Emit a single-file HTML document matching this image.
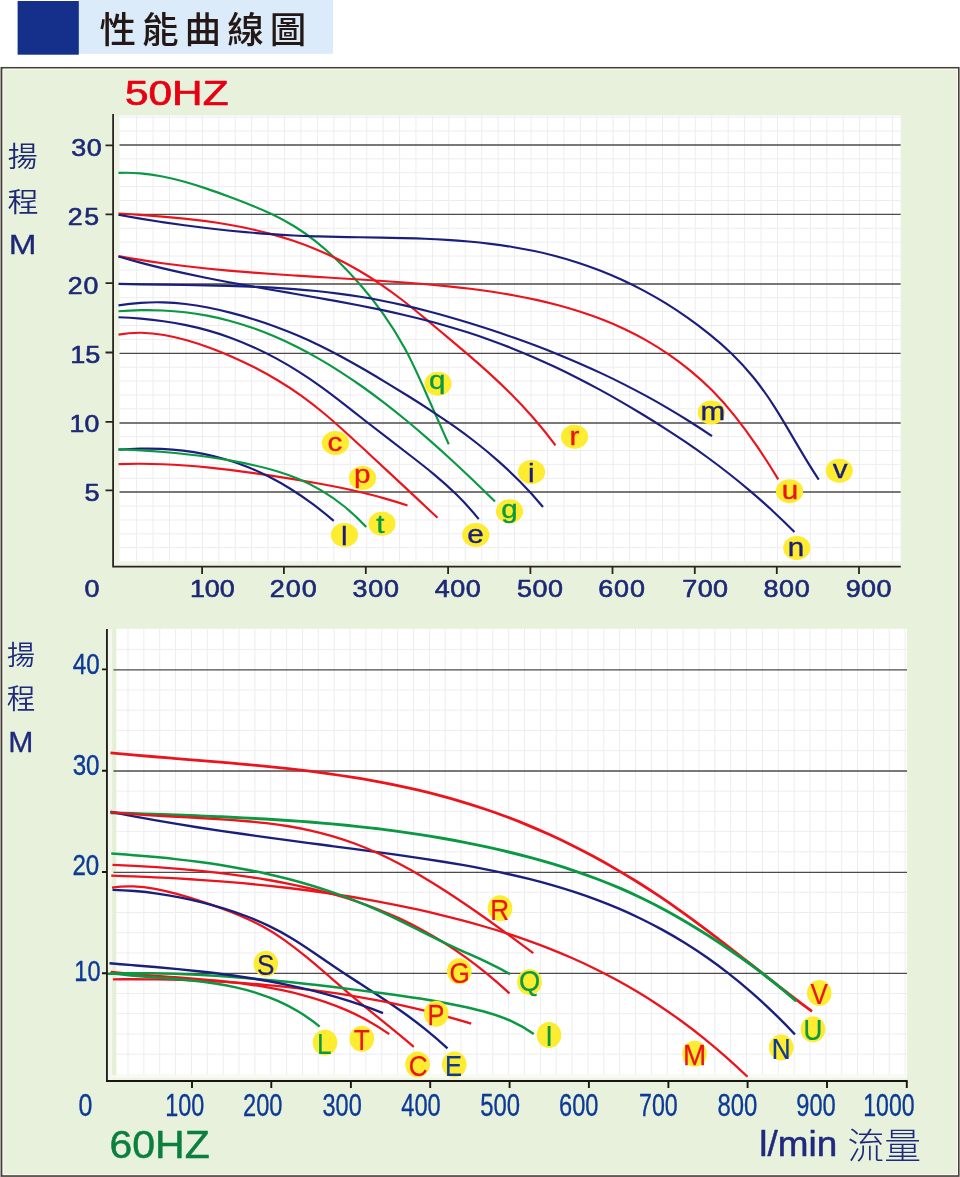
<!DOCTYPE html>
<html lang="zh-Hant"><head><meta charset="utf-8"><title>性能曲線圖</title>
<style>html,body{margin:0;padding:0;background:#fff}body{width:960px;height:1177px;overflow:hidden}svg{display:block}text{font-kerning:none;white-space:pre}</style>
</head><body>
<svg width="960" height="1177" viewBox="0 0 960 1177">
<rect width="960" height="1177" fill="#fff"/>
<rect x="78" y="0" width="255" height="53.8" fill="#dbebf9"/>
<rect x="17.6" y="1" width="61.2" height="53.7" fill="#14308b"/>
<text x="99.4 142 184.6 227.2 269.8" y="42.9" font-family="'Liberation Sans', 'Noto Sans CJK TC', sans-serif" font-weight="500" font-size="36.6" fill="#231815">性能曲線圖</text>
<rect x="1.75" y="67.8" width="957" height="1108.2" fill="#e8f1dc" stroke="#463f39" stroke-width="1.7"/>
<rect x="0" y="67" width="1" height="1110" fill="#a9a3a3"/>
<rect x="3.1" y="69.2" width="954.4" height="1105.4" fill="none" stroke="#f9fcf0" stroke-width="1"/>
<rect x="114" y="115.5" width="5.6" height="450.5" fill="#edf4e3"/>
<rect x="114" y="561.3" width="786.7" height="4.7" fill="#eef5e5"/>
<rect x="119.5" y="115.5" width="781.2" height="445.9" fill="#fff"/>
<path d="M136.63 115.5V561.4M153.06 115.5V561.4M169.5 115.5V561.4M185.93 115.5V561.4M202.36 115.5V561.4M218.79 115.5V561.4M235.22 115.5V561.4M251.66 115.5V561.4M268.09 115.5V561.4M284.52 115.5V561.4M300.95 115.5V561.4M317.38 115.5V561.4M333.82 115.5V561.4M350.25 115.5V561.4M366.68 115.5V561.4M383.11 115.5V561.4M399.54 115.5V561.4M415.98 115.5V561.4M432.41 115.5V561.4M448.84 115.5V561.4M465.27 115.5V561.4M481.7 115.5V561.4M498.14 115.5V561.4M514.57 115.5V561.4M531 115.5V561.4M547.43 115.5V561.4M563.86 115.5V561.4M580.3 115.5V561.4M596.73 115.5V561.4M613.16 115.5V561.4M629.59 115.5V561.4M646.02 115.5V561.4M662.46 115.5V561.4M678.89 115.5V561.4M695.32 115.5V561.4M711.75 115.5V561.4M728.18 115.5V561.4M744.62 115.5V561.4M761.05 115.5V561.4M777.48 115.5V561.4M793.91 115.5V561.4M810.34 115.5V561.4M826.78 115.5V561.4M843.21 115.5V561.4M859.64 115.5V561.4M876.07 115.5V561.4M892.5 115.5V561.4M119.5 547.71H900.7M119.5 533.82H900.7M119.5 519.94H900.7M119.5 506.05H900.7M119.5 478.27H900.7M119.5 464.38H900.7M119.5 450.5H900.7M119.5 436.61H900.7M119.5 408.83H900.7M119.5 394.94H900.7M119.5 381.06H900.7M119.5 367.17H900.7M119.5 339.39H900.7M119.5 325.5H900.7M119.5 311.62H900.7M119.5 297.73H900.7M119.5 269.95H900.7M119.5 256.06H900.7M119.5 242.18H900.7M119.5 228.29H900.7M119.5 200.51H900.7M119.5 186.62H900.7M119.5 172.74H900.7M119.5 158.85H900.7M119.5 131.07H900.7M119.5 117.18H900.7" fill="none" stroke="#ededf0" stroke-width="1"/>
<path d="M119.5 145H900.7" fill="none" stroke="#4f4a4a" stroke-width="1.5"/>
<path d="M119.5 214.45H900.7" fill="none" stroke="#4f4a4a" stroke-width="1.3"/>
<path d="M119.5 284H900.7" fill="none" stroke="#4f4a4a" stroke-width="1.5"/>
<path d="M119.5 353.4H900.7" fill="none" stroke="#4f4a4a" stroke-width="1.2"/>
<path d="M119.5 423H900.7" fill="none" stroke="#4f4a4a" stroke-width="1.5"/>
<path d="M119.5 492.05H900.7" fill="none" stroke="#4f4a4a" stroke-width="1.5"/>
<path d="M118.5 172.91C125.84 172.53 133.18 172.69 140.52 173.31C147.86 173.94 155.19 175.01 162.53 176.45C169.87 177.88 177.21 179.68 184.55 181.73C191.89 183.79 199.23 186.12 206.57 188.61C213.91 191.1 221.24 193.76 228.58 196.49C235.92 199.22 243.26 201.99 250.6 204.92C257.94 207.86 265.28 210.99 272.62 214.51C279.96 218.04 287.29 221.96 294.63 226.48C301.97 231 309.31 236.15 316.65 242.05C323.99 247.95 331.33 254.57 338.67 261.8C346.01 269.02 353.34 276.81 360.68 285.23C368.02 293.66 375.36 302.79 382.7 313.11C390.04 323.43 397.38 334.84 404.72 348.24C412.06 361.64 419.39 377.88 426.73 394.71C434.07 411.53 441.41 427.79 448.75 444.2" fill="none" stroke="#0a9843" stroke-width="2.15" stroke-linecap="butt"/>
<path d="M118.5 213.48C125.78 213.95 133.07 214.42 140.35 214.93C147.63 215.43 154.92 215.97 162.2 216.57C169.48 217.17 176.77 217.83 184.05 218.59C191.33 219.34 198.62 220.19 205.9 221.16C213.18 222.14 220.47 223.23 227.75 224.49C235.03 225.74 242.32 227.15 249.6 228.74C256.88 230.34 264.17 232.12 271.45 234.12C278.73 236.12 286.02 238.33 293.3 240.8C300.58 243.26 307.87 245.98 315.15 248.97C322.43 251.96 329.72 255.24 337 258.82C344.28 262.4 351.57 266.3 358.85 270.53C366.13 274.77 373.42 279.34 380.7 284.29C387.98 289.24 395.27 294.59 402.55 300.25C409.83 305.9 417.12 311.84 424.4 317.88C431.68 323.92 438.97 330.05 446.25 336.14C453.53 342.24 460.82 348.34 468.1 354.59C475.38 360.83 482.67 367.22 489.95 373.88C497.23 380.54 504.52 387.47 511.8 394.83C519.08 402.18 526.37 409.97 533.65 418.32C540.93 426.68 548.22 435.62 555.5 445.29" fill="none" stroke="#ec141c" stroke-width="2.15" stroke-linecap="butt"/>
<path d="M118.5 214.86C125.79 216.17 133.09 217.43 140.38 218.63C147.68 219.84 154.97 220.99 162.27 222.09C169.56 223.19 176.85 224.24 184.15 225.22C191.44 226.21 198.74 227.14 206.03 228.02C213.33 228.89 220.62 229.7 227.91 230.45C235.21 231.2 242.5 231.89 249.8 232.51C257.09 233.14 264.39 233.7 271.68 234.19C278.97 234.69 286.27 235.11 293.56 235.47C300.86 235.83 308.15 236.11 315.45 236.34C322.74 236.57 330.03 236.75 337.33 236.89C344.62 237.04 351.92 237.16 359.21 237.27C366.51 237.38 373.8 237.49 381.09 237.61C388.39 237.74 395.68 237.88 402.98 238.06C410.27 238.25 417.57 238.47 424.86 238.77C432.15 239.06 439.45 239.42 446.74 239.86C454.04 240.31 461.33 240.85 468.62 241.5C475.92 242.14 483.21 242.91 490.51 243.81C497.8 244.71 505.1 245.74 512.39 246.94C519.68 248.14 526.98 249.5 534.27 251.04C541.57 252.58 548.86 254.31 556.16 256.24C563.45 258.17 570.74 260.31 578.04 262.67C585.33 265.03 592.63 267.62 599.92 270.45C607.22 273.29 614.51 276.37 621.8 279.72C629.1 283.07 636.39 286.68 643.69 290.59C650.98 294.5 658.28 298.69 665.57 303.19C672.86 307.7 680.16 312.51 687.45 317.66C694.75 322.8 702.04 328.27 709.34 334.11C716.63 339.95 723.92 346.21 731.22 353.24C738.51 360.28 745.81 368.09 753.1 377.04C760.4 385.98 767.69 396.12 774.98 407.61C782.28 419.09 789.57 431.69 796.87 444.12C804.16 456.54 811.46 468.8 818.75 479.6" fill="none" stroke="#1a1f7c" stroke-width="2.15" stroke-linecap="butt"/>
<path d="M118.5 256.12C125.83 257.47 133.16 258.73 140.49 259.91C147.82 261.09 155.15 262.18 162.48 263.2C169.81 264.21 177.14 265.15 184.47 266.03C191.81 266.91 199.14 267.72 206.47 268.47C213.8 269.23 221.13 269.93 228.46 270.58C235.79 271.24 243.12 271.85 250.45 272.42C257.78 273 265.11 273.53 272.44 274.04C279.77 274.55 287.1 275.04 294.43 275.51C301.76 275.98 309.09 276.43 316.43 276.88C323.76 277.32 331.09 277.76 338.42 278.2C345.75 278.64 353.08 279.09 360.41 279.55C367.74 280.01 375.07 280.48 382.4 280.97C389.73 281.47 397.06 281.98 404.39 282.53C411.72 283.08 419.05 283.66 426.38 284.29C433.71 284.91 441.04 285.59 448.38 286.33C455.71 287.08 463.04 287.89 470.37 288.79C477.7 289.7 485.03 290.69 492.36 291.79C499.69 292.9 507.02 294.11 514.35 295.46C521.68 296.81 529.01 298.29 536.34 299.92C543.67 301.55 551 303.34 558.33 305.3C565.66 307.26 572.99 309.39 580.33 311.74C587.66 314.09 594.99 316.65 602.32 319.5C609.65 322.34 616.98 325.46 624.31 328.92C631.64 332.38 638.97 336.17 646.3 340.35C653.63 344.53 660.96 349.1 668.29 354.12C675.62 359.14 682.95 364.58 690.28 370.59C697.61 376.6 704.94 383.19 712.27 390.6C719.61 398.01 726.94 406.28 734.27 415.4C741.6 424.53 748.93 434.47 756.26 445.15C763.59 455.83 770.92 467.25 778.25 479.34" fill="none" stroke="#ec141c" stroke-width="2.15" stroke-linecap="butt"/>
<path d="M118.5 256.48C125.77 258.64 133.04 260.69 140.31 262.63C147.58 264.58 154.84 266.41 162.11 268.16C169.38 269.91 176.65 271.57 183.92 273.16C191.19 274.75 198.46 276.27 205.73 277.73C212.99 279.18 220.26 280.58 227.53 281.94C234.8 283.3 242.07 284.62 249.34 285.91C256.61 287.2 263.88 288.47 271.15 289.72C278.41 290.97 285.68 292.22 292.95 293.46C300.22 294.71 307.49 295.97 314.76 297.24C322.03 298.51 329.3 299.81 336.56 301.14C343.83 302.46 351.1 303.83 358.37 305.25C365.64 306.66 372.91 308.13 380.18 309.67C387.45 311.2 394.72 312.8 401.98 314.49C409.25 316.17 416.52 317.94 423.79 319.81C431.06 321.67 438.33 323.64 445.6 325.71C452.87 327.79 460.13 329.98 467.4 332.3C474.67 334.62 481.94 337.07 489.21 339.67C496.48 342.26 503.75 345 511.02 347.88C518.28 350.76 525.55 353.78 532.82 356.94C540.09 360.1 547.36 363.39 554.63 366.82C561.9 370.24 569.17 373.8 576.44 377.49C583.7 381.17 590.97 384.99 598.24 388.92C605.51 392.86 612.78 396.92 620.05 401.09C627.32 405.27 634.59 409.57 641.85 413.97C649.12 418.38 656.39 422.9 663.66 427.55C670.93 432.2 678.2 436.97 685.47 441.91C692.74 446.85 700.01 451.96 707.27 457.25C714.54 462.55 721.81 468.04 729.08 473.75C736.35 479.46 743.62 485.4 750.89 491.59C758.16 497.78 765.42 504.22 772.69 510.95C779.96 517.68 787.23 524.7 794.5 532.03" fill="none" stroke="#1a1f7c" stroke-width="2.15" stroke-linecap="butt"/>
<path d="M118.5 283.93C125.83 284.1 133.15 284.24 140.48 284.36C147.81 284.48 155.14 284.58 162.46 284.68C169.79 284.78 177.12 284.87 184.44 284.98C191.77 285.08 199.1 285.2 206.43 285.33C213.75 285.47 221.08 285.63 228.41 285.84C235.73 286.04 243.06 286.28 250.39 286.57C257.72 286.86 265.04 287.21 272.37 287.63C279.7 288.04 287.02 288.52 294.35 289.09C301.68 289.66 309.01 290.3 316.33 291.05C323.66 291.79 330.99 292.63 338.31 293.58C345.64 294.54 352.97 295.6 360.3 296.79C367.62 297.98 374.95 299.3 382.28 300.74C389.6 302.18 396.93 303.74 404.26 305.42C411.59 307.09 418.91 308.88 426.24 310.76C433.57 312.65 440.9 314.65 448.22 316.73C455.55 318.82 462.88 321 470.2 323.26C477.53 325.52 484.86 327.87 492.19 330.29C499.51 332.71 506.84 335.21 514.17 337.8C521.49 340.38 528.82 343.06 536.15 345.83C543.48 348.6 550.8 351.46 558.13 354.44C565.46 357.41 572.78 360.49 580.11 363.69C587.44 366.89 594.77 370.2 602.09 373.65C609.42 377.09 616.75 380.66 624.07 384.37C631.4 388.08 638.73 391.92 646.06 395.91C653.38 399.91 660.71 404.05 668.04 408.35C675.36 412.64 682.69 417.1 690.02 421.72C697.35 426.35 704.67 431.14 712 436.11" fill="none" stroke="#1a1f7c" stroke-width="2.15" stroke-linecap="butt"/>
<path d="M118.5 305.35C125.95 304.17 133.39 303.33 140.84 302.83C148.29 302.32 155.74 302.16 163.18 302.35C170.63 302.53 178.08 303.07 185.53 303.95C192.97 304.83 200.42 306.04 207.87 307.52C215.32 308.99 222.76 310.72 230.21 312.63C237.66 314.54 245.11 316.65 252.55 318.96C260 321.27 267.45 323.78 274.89 326.51C282.34 329.24 289.79 332.18 297.24 335.33C304.68 338.49 312.13 341.87 319.58 345.48C327.03 349.09 334.47 352.93 341.92 356.96C349.37 360.99 356.82 365.2 364.26 369.54C371.71 373.87 379.16 378.32 386.61 382.83C394.05 387.33 401.5 391.88 408.95 396.52C416.39 401.17 423.84 405.9 431.29 410.79C438.74 415.68 446.18 420.73 453.63 425.98C461.08 431.24 468.53 436.71 475.97 442.52C483.42 448.34 490.87 454.48 498.32 461.08C505.76 467.68 513.21 474.73 520.66 482.35C528.11 489.97 535.55 498.16 543 507.03" fill="none" stroke="#1a1f7c" stroke-width="2.15" stroke-linecap="butt"/>
<path d="M118.5 311.29C125.88 310.69 133.26 310.32 140.65 310.18C148.03 310.05 155.41 310.14 162.79 310.49C170.18 310.83 177.56 311.43 184.94 312.29C192.32 313.15 199.71 314.28 207.09 315.68C214.47 317.08 221.85 318.77 229.24 320.75C236.62 322.73 244 325 251.38 327.55C258.76 330.11 266.15 332.95 273.53 336.07C280.91 339.19 288.29 342.59 295.68 346.26C303.06 349.93 310.44 353.88 317.82 358.1C325.21 362.31 332.59 366.8 339.97 371.54C347.35 376.28 354.74 381.27 362.12 386.5C369.5 391.73 376.88 397.19 384.26 402.86C391.65 408.54 399.03 414.43 406.41 420.51C413.79 426.59 421.18 432.87 428.56 439.33C435.94 445.78 443.32 452.41 450.71 459.19C458.09 465.98 465.47 472.92 472.85 479.99C480.24 487.07 487.62 494.28 495 501.61" fill="none" stroke="#0a9843" stroke-width="2.15" stroke-linecap="butt"/>
<path d="M118.5 317.24C126.01 317.55 133.51 318.01 141.02 318.66C148.52 319.32 156.03 320.15 163.53 321.22C171.04 322.28 178.54 323.57 186.05 325.13C193.55 326.68 201.06 328.5 208.56 330.62C216.07 332.73 223.57 335.16 231.08 337.91C238.58 340.67 246.09 343.75 253.59 347.17C261.1 350.58 268.6 354.32 276.11 358.4C283.61 362.47 291.12 366.87 298.62 371.6C306.13 376.33 313.64 381.39 321.14 386.78C328.65 392.17 336.15 397.91 343.66 403.79C351.16 409.66 358.67 415.65 366.17 421.51C373.68 427.38 381.18 433.16 388.69 438.93C396.19 444.69 403.7 450.44 411.2 456.24C418.71 462.04 426.21 467.87 433.72 474.1C441.22 480.33 448.73 486.95 456.23 494.34C463.74 501.72 471.24 509.86 478.75 519.12" fill="none" stroke="#1a1f7c" stroke-width="2.15" stroke-linecap="butt"/>
<path d="M118.5 334.66C126.1 333.22 133.69 332.64 141.29 332.74C148.88 332.85 156.48 333.64 164.07 334.96C171.67 336.27 179.26 338.11 186.86 340.3C194.45 342.49 202.05 345.02 209.64 347.79C217.24 350.56 224.83 353.6 232.43 356.93C240.02 360.26 247.62 363.87 255.21 367.79C262.81 371.7 270.4 375.93 278 380.48C285.6 385.02 293.19 389.92 300.79 395.31C308.38 400.7 315.98 406.64 323.57 412.98C331.17 419.33 338.76 426.06 346.36 432.95C353.95 439.85 361.55 446.9 369.14 453.94C376.74 460.98 384.33 468.03 391.93 475.1C399.52 482.17 407.12 489.27 414.71 496.39C422.31 503.51 429.9 510.65 437.5 517.83" fill="none" stroke="#ec141c" stroke-width="2.15" stroke-linecap="butt"/>
<path d="M118.5 464.1C125.91 463.82 133.32 463.71 140.73 463.74C148.14 463.77 155.55 463.94 162.96 464.23C170.37 464.53 177.78 464.96 185.19 465.49C192.6 466.02 200.01 466.67 207.42 467.41C214.83 468.14 222.24 468.97 229.65 469.88C237.06 470.79 244.47 471.77 251.88 472.81C259.29 473.85 266.71 474.96 274.12 476.1C281.53 477.25 288.94 478.43 296.35 479.65C303.76 480.87 311.17 482.14 318.58 483.49C325.99 484.83 333.4 486.26 340.81 487.79C348.22 489.33 355.63 490.98 363.04 492.77C370.45 494.56 377.86 496.49 385.27 498.6C392.68 500.71 400.09 503 407.5 505.49" fill="none" stroke="#ec141c" stroke-width="2.15" stroke-linecap="butt"/>
<path d="M118.5 449.79C125.67 449.21 132.85 448.82 140.03 448.66C147.2 448.5 154.38 448.56 161.55 448.87C168.72 449.19 175.9 449.76 183.07 450.62C190.25 451.47 197.42 452.62 204.6 454.09C211.78 455.55 218.95 457.34 226.12 459.47C233.3 461.61 240.47 464.1 247.65 466.98C254.82 469.85 262 473.11 269.17 476.78C276.35 480.44 283.52 484.5 290.7 488.98C297.88 493.45 305.05 498.34 312.23 503.66C319.4 508.98 326.57 514.73 333.75 520.91" fill="none" stroke="#1a1f7c" stroke-width="2.15" stroke-linecap="butt"/>
<path d="M118.5 449.06C126.01 449.44 133.52 449.86 141.02 450.35C148.53 450.83 156.04 451.38 163.55 452.02C171.05 452.66 178.56 453.38 186.07 454.21C193.58 455.04 201.08 455.97 208.59 457.04C216.1 458.11 223.61 459.31 231.11 460.65C238.62 462 246.13 463.5 253.64 465.18C261.14 466.85 268.65 468.73 276.16 470.98C283.67 473.23 291.17 475.85 298.68 479.01C306.19 482.18 313.7 485.9 321.2 490.33C328.71 494.77 336.22 499.92 343.73 505.97C351.23 512.03 358.74 518.97 366.25 526.99" fill="none" stroke="#0a9843" stroke-width="2.15" stroke-linecap="butt"/>
<path d="M113.1 114V567.5M112.2 566.65H900.8" fill="none" stroke="#2a2320" stroke-width="1.8"/>
<path d="M105.5 145.3H113M105.5 214.3H113M105.5 283.2H113M105.5 352.5H113M105.5 421.9H113M105.5 490.3H113M202.1 566.6V574M283.9 566.6V574M365.8 566.6V574M448.1 566.6V574M530.4 566.6V574M612.5 566.6V574M694.8 566.6V574M776.8 566.6V574M859 566.6V574" fill="none" stroke="#2a2320" stroke-width="1.8"/>
<ellipse cx="438" cy="383.75" rx="13.6" ry="11.9" fill="#fdec30"/>
<ellipse cx="335.4" cy="443" rx="13.6" ry="11.9" fill="#fdec30"/>
<ellipse cx="362.5" cy="478" rx="13.6" ry="11.9" fill="#fdec30"/>
<ellipse cx="382" cy="523.75" rx="13.6" ry="11.9" fill="#fdec30"/>
<ellipse cx="344.5" cy="535" rx="13.6" ry="11.9" fill="#fdec30"/>
<ellipse cx="475.75" cy="535" rx="13.6" ry="11.9" fill="#fdec30"/>
<ellipse cx="509.5" cy="511.25" rx="13.6" ry="11.9" fill="#fdec30"/>
<ellipse cx="531.5" cy="472" rx="13.6" ry="11.9" fill="#fdec30"/>
<ellipse cx="574.5" cy="436.75" rx="13.6" ry="11.9" fill="#fdec30"/>
<ellipse cx="711.25" cy="412.5" rx="13.6" ry="11.9" fill="#fdec30"/>
<ellipse cx="789.5" cy="491.25" rx="13.6" ry="11.9" fill="#fdec30"/>
<ellipse cx="839.25" cy="470.75" rx="13.6" ry="11.9" fill="#fdec30"/>
<ellipse cx="796.75" cy="548" rx="13.6" ry="11.9" fill="#fdec30"/>
<text transform="translate(429.11 388.92) scale(1.17 1)" font-family="'Liberation Sans', sans-serif" font-size="25.3" fill="#0a9843" stroke="#0a9843" stroke-width="0.35" stroke-linejoin="round">q</text>
<text transform="translate(327.4 450.7) scale(1.17 1)" font-family="'Liberation Sans', sans-serif" font-size="25.3" fill="#ec141c" stroke="#ec141c" stroke-width="0.35" stroke-linejoin="round">c</text>
<text transform="translate(354.12 483.11) scale(1.17 1)" font-family="'Liberation Sans', sans-serif" font-size="25.3" fill="#ec141c" stroke="#ec141c" stroke-width="0.35" stroke-linejoin="round">p</text>
<text transform="translate(376.28 532.78) scale(1.17 1)" font-family="'Liberation Sans', sans-serif" font-size="25.3" fill="#0a9843" stroke="#0a9843" stroke-width="0.35" stroke-linejoin="round">t</text>
<text transform="translate(340.94 545.17) scale(1.17 1)" font-family="'Liberation Sans', sans-serif" font-size="25.3" fill="#1a1f7c" stroke="#1a1f7c" stroke-width="0.35" stroke-linejoin="round">l</text>
<text transform="translate(467.24 542.7) scale(1.17 1)" font-family="'Liberation Sans', sans-serif" font-size="25.3" fill="#1a1f7c" stroke="#1a1f7c" stroke-width="0.35" stroke-linejoin="round">e</text>
<text transform="translate(501.36 517.86) scale(1.17 1)" font-family="'Liberation Sans', sans-serif" font-size="25.3" fill="#0a9843" stroke="#0a9843" stroke-width="0.35" stroke-linejoin="round">g</text>
<text transform="translate(527.94 482.17) scale(1.17 1)" font-family="'Liberation Sans', sans-serif" font-size="25.3" fill="#1a1f7c" stroke="#1a1f7c" stroke-width="0.35" stroke-linejoin="round">i</text>
<text transform="translate(569.58 444.98) scale(1.17 1)" font-family="'Liberation Sans', sans-serif" font-size="25.3" fill="#ec141c" stroke="#ec141c" stroke-width="0.35" stroke-linejoin="round">r</text>
<text transform="translate(700.47 420.33) scale(1.17 1)" font-family="'Liberation Sans', sans-serif" font-size="25.3" fill="#1a1f7c" stroke="#1a1f7c" stroke-width="0.35" stroke-linejoin="round">m</text>
<text transform="translate(781.69 498.83) scale(1.17 1)" font-family="'Liberation Sans', sans-serif" font-size="25.3" fill="#ec141c" stroke="#ec141c" stroke-width="0.35" stroke-linejoin="round">u</text>
<text transform="translate(832.75 478.45) scale(1.17 1)" font-family="'Liberation Sans', sans-serif" font-size="25.3" fill="#1a1f7c" stroke="#1a1f7c" stroke-width="0.35" stroke-linejoin="round">v</text>
<text transform="translate(787.74 555.83) scale(1.17 1)" font-family="'Liberation Sans', sans-serif" font-size="25.3" fill="#1a1f7c" stroke="#1a1f7c" stroke-width="0.35" stroke-linejoin="round">n</text>
<rect x="116.2" y="628.8" width="790.8" height="446" fill="#fff"/>
<rect x="107.5" y="1074.8" width="799.5" height="3.6" fill="#f7faf1"/>
<rect x="107.5" y="1078.4" width="799.5" height="1.8" fill="#eef5e4"/>
<rect x="107.5" y="628.8" width="4.8" height="451.4" fill="#f3f8ec"/>
<rect x="112.3" y="628.8" width="3.9" height="446.4" fill="#e5efd8"/>
<path d="M128.01 628.8V1074.8M143.87 628.8V1074.8M159.73 628.8V1074.8M175.59 628.8V1074.8M191.45 628.8V1074.8M207.31 628.8V1074.8M223.17 628.8V1074.8M239.03 628.8V1074.8M254.89 628.8V1074.8M270.75 628.8V1074.8M286.61 628.8V1074.8M302.47 628.8V1074.8M318.33 628.8V1074.8M334.19 628.8V1074.8M350.05 628.8V1074.8M365.91 628.8V1074.8M381.77 628.8V1074.8M397.63 628.8V1074.8M413.49 628.8V1074.8M429.35 628.8V1074.8M445.21 628.8V1074.8M461.07 628.8V1074.8M476.93 628.8V1074.8M492.79 628.8V1074.8M508.65 628.8V1074.8M524.51 628.8V1074.8M540.37 628.8V1074.8M556.23 628.8V1074.8M572.09 628.8V1074.8M587.95 628.8V1074.8M603.81 628.8V1074.8M619.67 628.8V1074.8M635.53 628.8V1074.8M651.39 628.8V1074.8M667.25 628.8V1074.8M683.11 628.8V1074.8M698.97 628.8V1074.8M714.83 628.8V1074.8M730.69 628.8V1074.8M746.55 628.8V1074.8M762.41 628.8V1074.8M778.27 628.8V1074.8M794.13 628.8V1074.8M809.99 628.8V1074.8M825.85 628.8V1074.8M841.71 628.8V1074.8M857.57 628.8V1074.8M873.43 628.8V1074.8M889.29 628.8V1074.8M905.15 628.8V1074.8M116.2 1054.16H907.0M116.2 1033.93H907.0M116.2 1013.69H907.0M116.2 993.46H907.0M116.2 952.98H907.0M116.2 932.75H907.0M116.2 912.51H907.0M116.2 892.28H907.0M116.2 851.8H907.0M116.2 831.57H907.0M116.2 811.33H907.0M116.2 791.1H907.0M116.2 750.62H907.0M116.2 730.39H907.0M116.2 710.15H907.0M116.2 689.92H907.0M116.2 649.44H907.0" fill="none" stroke="#ededf0" stroke-width="1"/>
<path d="M113.5 669.9H907.0" fill="none" stroke="#4f4a4a" stroke-width="1.4"/>
<path d="M113.5 771H907.0" fill="none" stroke="#4f4a4a" stroke-width="1.4"/>
<path d="M113.5 872.3H907.0" fill="none" stroke="#4f4a4a" stroke-width="1.3"/>
<path d="M113.5 973.4H907.0" fill="none" stroke="#4f4a4a" stroke-width="1.3"/>
<path d="M110.5 752.82C117.81 753.53 125.11 754.2 132.42 754.85C139.73 755.5 147.04 756.12 154.34 756.74C161.65 757.35 168.96 757.94 176.27 758.54C183.57 759.13 190.88 759.72 198.19 760.32C205.49 760.91 212.8 761.51 220.11 762.13C227.42 762.75 234.72 763.38 242.03 764.04C249.34 764.7 256.65 765.39 263.95 766.11C271.26 766.83 278.57 767.59 285.88 768.4C293.18 769.2 300.49 770.05 307.8 770.96C315.1 771.86 322.41 772.82 329.72 773.85C337.03 774.88 344.33 775.97 351.64 777.14C358.95 778.31 366.26 779.55 373.56 780.88C380.87 782.22 388.18 783.63 395.48 785.14C402.79 786.66 410.1 788.26 417.41 789.98C424.71 791.69 432.02 793.51 439.33 795.44C446.64 797.38 453.94 799.43 461.25 801.6C468.56 803.78 475.86 806.08 483.17 808.52C490.48 810.95 497.79 813.52 505.09 816.24C512.4 818.96 519.71 821.82 527.02 824.84C534.32 827.86 541.63 831.02 548.94 834.34C556.24 837.66 563.55 841.13 570.86 844.75C578.17 848.38 585.47 852.15 592.78 856.09C600.09 860.02 607.4 864.11 614.7 868.35C622.01 872.59 629.32 876.99 636.62 881.55C643.93 886.11 651.24 890.82 658.55 895.69C665.85 900.57 673.16 905.6 680.47 910.79C687.78 915.99 695.08 921.34 702.39 926.8C709.7 932.27 717.01 937.85 724.31 943.49C731.62 949.13 738.93 954.85 746.23 960.58C753.54 966.31 760.85 972.06 768.16 977.78C775.46 983.51 782.77 989.21 790.08 994.83C797.39 1000.46 804.69 1006.01 812 1011.44" fill="none" stroke="#ec141c" stroke-width="2.8" stroke-linecap="butt"/>
<path d="M110.5 812.73C117.87 812.99 125.25 813.25 132.62 813.5C139.99 813.76 147.37 814.01 154.74 814.26C162.12 814.52 169.49 814.78 176.86 815.05C184.24 815.32 191.61 815.59 198.98 815.89C206.36 816.18 213.73 816.48 221.1 816.81C228.48 817.14 235.85 817.48 243.23 817.86C250.6 818.23 257.97 818.63 265.35 819.06C272.72 819.49 280.09 819.95 287.47 820.44C294.84 820.94 302.22 821.48 309.59 822.05C316.96 822.63 324.34 823.25 331.71 823.92C339.08 824.58 346.46 825.3 353.83 826.07C361.2 826.84 368.58 827.66 375.95 828.54C383.33 829.42 390.7 830.36 398.07 831.37C405.45 832.38 412.82 833.45 420.19 834.59C427.57 835.73 434.94 836.94 442.31 838.22C449.69 839.51 457.06 840.87 464.44 842.32C471.81 843.76 479.18 845.29 486.56 846.9C493.93 848.51 501.3 850.21 508.68 852.01C516.05 853.8 523.42 855.68 530.8 857.67C538.17 859.66 545.55 861.76 552.92 863.98C560.29 866.21 567.67 868.56 575.04 871.05C582.41 873.55 589.79 876.19 597.16 879C604.53 881.81 611.91 884.78 619.28 887.93C626.66 891.09 634.03 894.42 641.4 897.97C648.78 901.51 656.15 905.25 663.52 909.21C670.9 913.17 678.27 917.34 685.65 921.69C693.02 926.05 700.39 930.59 707.77 935.31C715.14 940.03 722.51 944.92 729.89 949.96C737.26 955 744.63 960.2 752.01 965.62C759.38 971.03 766.76 976.66 774.13 982.57C781.5 988.48 788.88 994.67 796.25 1001.21" fill="none" stroke="#0a9843" stroke-width="2.9" stroke-linecap="butt"/>
<path d="M110.5 811.78C117.86 813.28 125.22 814.72 132.58 816.11C139.94 817.5 147.3 818.85 154.66 820.15C162.02 821.45 169.38 822.71 176.74 823.93C184.1 825.15 191.46 826.34 198.82 827.49C206.18 828.64 213.54 829.76 220.9 830.85C228.26 831.95 235.62 833.02 242.98 834.06C250.34 835.11 257.7 836.14 265.06 837.15C272.42 838.16 279.78 839.16 287.15 840.14C294.51 841.13 301.87 842.11 309.23 843.08C316.59 844.05 323.95 845.02 331.31 845.99C338.67 846.96 346.03 847.93 353.39 848.91C360.75 849.89 368.11 850.87 375.47 851.87C382.83 852.87 390.19 853.88 397.55 854.91C404.91 855.94 412.27 856.99 419.63 858.08C426.99 859.17 434.35 860.3 441.71 861.48C449.07 862.66 456.43 863.89 463.79 865.19C471.15 866.5 478.51 867.87 485.87 869.32C493.23 870.78 500.59 872.32 507.95 873.96C515.31 875.61 522.67 877.35 530.03 879.21C537.39 881.07 544.75 883.05 552.11 885.16C559.47 887.27 566.83 889.51 574.19 891.92C581.55 894.33 588.91 896.89 596.27 899.64C603.63 902.39 610.99 905.31 618.35 908.45C625.72 911.58 633.08 914.92 640.44 918.48C647.8 922.04 655.16 925.84 662.52 929.88C669.88 933.92 677.24 938.21 684.6 942.77C691.96 947.33 699.32 952.16 706.68 957.29C714.04 962.42 721.4 967.85 728.76 973.59C736.12 979.33 743.48 985.39 750.84 991.79C758.2 998.19 765.56 1004.93 772.92 1012.03C780.28 1019.14 787.64 1026.6 795 1034.45" fill="none" stroke="#1a1f7c" stroke-width="2.4" stroke-linecap="butt"/>
<path d="M110.5 812.17C117.92 812.9 125.33 813.52 132.75 814.08C140.17 814.63 147.58 815.11 155 815.56C162.42 816 169.83 816.41 177.25 816.81C184.67 817.2 192.08 817.59 199.5 818C206.92 818.42 214.33 818.85 221.75 819.34C229.17 819.83 236.58 820.38 244 821.01C251.42 821.64 258.83 822.35 266.25 823.2C273.67 824.06 281.08 825.05 288.5 826.25C295.92 827.45 303.33 828.87 310.75 830.54C318.17 832.2 325.58 834.13 333 836.32C340.42 838.52 347.83 841 355.25 843.77C362.67 846.55 370.08 849.64 377.5 853.02C384.92 856.4 392.33 860.08 399.75 864C407.17 867.92 414.58 872.09 422 876.48C429.42 880.86 436.83 885.45 444.25 890.22C451.67 894.98 459.08 899.92 466.5 904.98C473.92 910.05 481.33 915.24 488.75 920.54C496.17 925.83 503.58 931.21 511 936.65C518.42 942.09 525.83 947.59 533.25 953.1" fill="none" stroke="#ec141c" stroke-width="2.3" stroke-linecap="butt"/>
<path d="M112.5 864.9C119.85 865.14 127.2 865.44 134.56 865.81C141.91 866.18 149.26 866.61 156.61 867.1C163.96 867.6 171.31 868.16 178.67 868.78C186.02 869.41 193.37 870.1 200.72 870.85C208.07 871.61 215.43 872.43 222.78 873.33C230.13 874.24 237.48 875.21 244.83 876.28C252.19 877.35 259.54 878.5 266.89 879.75C274.24 881 281.59 882.34 288.94 883.8C296.3 885.26 303.65 886.84 311 888.57C318.35 890.3 325.7 892.18 333.06 894.24C340.41 896.3 347.76 898.53 355.11 900.98C362.46 903.43 369.81 906.08 377.17 908.98C384.52 911.87 391.87 915.01 399.22 918.41C406.57 921.81 413.93 925.49 421.28 929.46C428.63 933.43 435.98 937.7 443.33 942.3C450.69 946.91 458.04 951.84 465.39 957.13C472.74 962.42 480.09 968.07 487.44 974.12C494.8 980.16 502.15 986.59 509.5 993.44" fill="none" stroke="#ec141c" stroke-width="2.3" stroke-linecap="butt"/>
<path d="M111.25 875.66C118.56 875.88 125.88 876.13 133.19 876.41C140.5 876.69 147.82 876.99 155.13 877.33C162.44 877.67 169.76 878.05 177.07 878.46C184.38 878.86 191.7 879.31 199.01 879.79C206.32 880.28 213.64 880.8 220.95 881.37C228.26 881.94 235.57 882.55 242.89 883.21C250.2 883.87 257.51 884.57 264.83 885.33C272.14 886.08 279.45 886.89 286.77 887.75C294.08 888.6 301.39 889.52 308.71 890.49C316.02 891.45 323.33 892.48 330.65 893.57C337.96 894.65 345.27 895.8 352.59 897.01C359.9 898.22 367.21 899.5 374.53 900.84C381.84 902.18 389.15 903.59 396.47 905.07C403.78 906.56 411.09 908.11 418.41 909.73C425.72 911.36 433.03 913.06 440.34 914.84C447.66 916.61 454.97 918.47 462.28 920.41C469.6 922.35 476.91 924.37 484.22 926.5C491.54 928.62 498.85 930.85 506.16 933.2C513.48 935.55 520.79 938.02 528.1 940.62C535.42 943.23 542.73 945.97 550.04 948.87C557.36 951.76 564.67 954.81 571.98 958.03C579.3 961.25 586.61 964.64 593.92 968.22C601.24 971.8 608.55 975.57 615.86 979.54C623.18 983.51 630.49 987.68 637.8 992.08C645.11 996.48 652.43 1001.09 659.74 1005.95C667.05 1010.81 674.37 1015.9 681.68 1021.26C688.99 1026.61 696.31 1032.21 703.62 1038.09C710.93 1043.97 718.25 1050.12 725.56 1056.57C732.87 1063.01 740.19 1069.74 747.5 1076.78" fill="none" stroke="#ec141c" stroke-width="2.3" stroke-linecap="butt"/>
<path d="M111.25 853.56C118.63 854.07 126.02 854.61 133.4 855.2C140.79 855.79 148.17 856.42 155.56 857.11C162.94 857.8 170.32 858.55 177.71 859.38C185.09 860.2 192.48 861.1 199.86 862.08C207.25 863.07 214.63 864.14 222.01 865.32C229.4 866.5 236.78 867.77 244.17 869.17C251.55 870.56 258.94 872.08 266.32 873.72C273.7 875.36 281.09 877.13 288.47 879.05C295.86 880.97 303.24 883.03 310.62 885.25C318.01 887.47 325.39 889.85 332.78 892.41C340.16 894.96 347.55 897.69 354.93 900.6C362.31 903.52 369.7 906.62 377.08 909.92C384.47 913.23 391.85 916.75 399.24 920.37C406.62 923.99 414 927.72 421.39 931.42C428.77 935.13 436.16 938.82 443.54 942.37C450.93 945.93 458.31 949.29 465.69 952.55C473.08 955.82 480.46 959.04 487.85 962.54C495.23 966.03 502.62 969.8 510 974.16" fill="none" stroke="#0a9843" stroke-width="2.5" stroke-linecap="butt"/>
<path d="M112 887.58C119.18 886.42 126.37 886.09 133.55 886.37C140.74 886.66 147.92 887.56 155.11 888.89C162.29 890.23 169.48 891.98 176.66 893.97C183.85 895.95 191.03 898.14 198.21 900.44C205.4 902.73 212.58 905.17 219.77 907.78C226.95 910.39 234.14 913.16 241.32 916.22C248.51 919.28 255.69 922.65 262.88 926.58C270.06 930.5 277.24 935.04 284.43 940.14C291.61 945.24 298.8 950.84 305.98 956.73C313.17 962.61 320.35 968.77 327.54 974.99C334.72 981.2 341.9 987.46 349.09 993.54C356.27 999.62 363.46 1005.51 370.64 1011.34C377.83 1017.17 385.01 1022.94 392.2 1028.8C399.38 1034.66 406.57 1040.6 413.75 1046.77" fill="none" stroke="#ec141c" stroke-width="2.3" stroke-linecap="butt"/>
<path d="M112.5 889.83C119.94 890.03 127.39 890.44 134.83 891.07C142.28 891.69 149.72 892.53 157.17 893.57C164.61 894.62 172.06 895.87 179.5 897.33C186.94 898.8 194.39 900.46 201.83 902.33C209.28 904.2 216.72 906.27 224.17 908.56C231.61 910.86 239.06 913.39 246.5 916.25C253.94 919.11 261.39 922.3 268.83 925.88C276.28 929.46 283.72 933.45 291.17 937.91C298.61 942.38 306.06 947.35 313.5 952.43C320.94 957.51 328.39 962.65 335.83 967.64C343.28 972.64 350.72 977.53 358.17 982.37C365.61 987.21 373.06 992.03 380.5 996.96C387.94 1001.89 395.39 1006.94 402.83 1012.25C410.28 1017.56 417.72 1023.14 425.17 1029.12C432.61 1035.1 440.06 1041.49 447.5 1048.44" fill="none" stroke="#1a1f7c" stroke-width="2.4" stroke-linecap="butt"/>
<path d="M110.8 971.98C117.94 972.73 125.08 973.4 132.22 974.01C139.36 974.61 146.5 975.16 153.64 975.69C160.78 976.22 167.92 976.72 175.06 977.23C182.2 977.75 189.34 978.28 196.48 978.85C203.62 979.42 210.76 980.04 217.9 980.75C225.04 981.45 232.18 982.23 239.32 983.13C246.46 984.03 253.59 985.05 260.73 986.21C267.87 987.38 275.01 988.7 282.15 990.2C289.29 991.71 296.43 993.4 303.57 995.31C310.71 997.22 317.85 999.36 324.99 1001.81C332.13 1004.25 339.27 1007 346.41 1010.14C353.55 1013.27 360.69 1016.78 367.83 1020.76C374.97 1024.73 382.11 1029.17 389.25 1034.14" fill="none" stroke="#ec141c" stroke-width="2.3" stroke-linecap="butt"/>
<path d="M113 979.34C120.46 979.26 127.93 979.23 135.39 979.25C142.85 979.27 150.32 979.33 157.78 979.44C165.24 979.56 172.71 979.72 180.17 979.94C187.64 980.16 195.1 980.43 202.56 980.75C210.03 981.08 217.49 981.47 224.95 981.91C232.42 982.35 239.88 982.85 247.34 983.42C254.81 983.99 262.27 984.61 269.73 985.31C277.2 986 284.66 986.76 292.12 987.59C299.59 988.42 307.05 989.32 314.52 990.29C321.98 991.26 329.44 992.3 336.91 993.42C344.37 994.54 351.83 995.74 359.3 997.02C366.76 998.3 374.22 999.67 381.69 1001.13C389.15 1002.59 396.61 1004.15 404.08 1005.81C411.54 1007.47 419.01 1009.23 426.47 1011.1C433.93 1012.97 441.4 1014.95 448.86 1017.05C456.32 1019.15 463.79 1021.37 471.25 1023.72" fill="none" stroke="#ec141c" stroke-width="2.3" stroke-linecap="butt"/>
<path d="M110 973.41C116.99 974.25 123.98 974.94 130.97 975.55C137.96 976.15 144.95 976.68 151.94 977.19C158.93 977.71 165.92 978.21 172.91 978.77C179.9 979.34 186.89 979.96 193.88 980.72C200.87 981.48 207.86 982.37 214.85 983.46C221.84 984.56 228.83 985.86 235.82 987.44C242.81 989.02 249.8 990.87 256.79 993.08C263.78 995.28 270.77 997.84 277.76 1000.9C284.75 1003.96 291.74 1007.53 298.73 1011.76C305.72 1015.99 312.71 1020.87 319.7 1026.57" fill="none" stroke="#0a9843" stroke-width="2.4" stroke-linecap="butt"/>
<path d="M107.5 973.68C114.98 973.46 122.46 973.32 129.93 973.27C137.41 973.21 144.89 973.24 152.37 973.34C159.85 973.44 167.32 973.61 174.8 973.85C182.28 974.09 189.76 974.4 197.24 974.78C204.71 975.15 212.19 975.58 219.67 976.07C227.15 976.56 234.63 977.11 242.11 977.71C249.58 978.3 257.06 978.95 264.54 979.64C272.02 980.33 279.5 981.06 286.97 981.83C294.45 982.6 301.93 983.41 309.41 984.25C316.89 985.09 324.36 985.96 331.84 986.86C339.32 987.75 346.8 988.68 354.28 989.62C361.75 990.56 369.23 991.52 376.71 992.49C384.19 993.47 391.67 994.46 399.14 995.5C406.62 996.54 414.1 997.64 421.58 998.82C429.06 1000.01 436.54 1001.28 444.01 1002.68C451.49 1004.08 458.97 1005.6 466.45 1007.29C473.93 1008.97 481.4 1010.77 488.88 1012.96C496.36 1015.15 503.84 1017.75 511.32 1021.12C518.79 1024.49 526.27 1028.64 533.75 1033.9" fill="none" stroke="#0a9843" stroke-width="2.5" stroke-linecap="butt"/>
<path d="M109.5 963.29C117.1 963.91 124.69 964.53 132.29 965.15C139.89 965.77 147.49 966.41 155.08 967.07C162.68 967.73 170.28 968.41 177.88 969.15C185.47 969.88 193.07 970.66 200.67 971.5C208.26 972.34 215.86 973.24 223.46 974.23C231.06 975.21 238.65 976.28 246.25 977.45C253.85 978.62 261.44 979.89 269.04 981.27C276.64 982.66 284.24 984.16 291.83 985.8C299.43 987.44 307.03 989.22 314.62 991.15C322.22 993.08 329.82 995.16 337.42 997.42C345.01 999.67 352.61 1002.1 360.21 1004.73C367.81 1007.35 375.4 1010.16 383 1013.18" fill="none" stroke="#1a1f7c" stroke-width="2.4" stroke-linecap="butt"/>
<path d="M106.95 629V1081.9M106 1081H907.6" fill="none" stroke="#1a1412" stroke-width="1.8"/>
<path d="M102 669.4H107M102 770.8H107M102 872H107M102 973.3H107M192 1081V1088M271.3 1081V1088M350.9 1081V1088M430.2 1081V1088M509.6 1081V1088M588.9 1081V1088M668.4 1081V1088M747.6 1081V1088M827 1081V1088M906.8 1081V1088" fill="none" stroke="#1a1412" stroke-width="1.9"/>
<ellipse cx="265.75" cy="963.75" rx="12.3" ry="13" fill="#fdec30"/>
<ellipse cx="325" cy="1042.5" rx="12.3" ry="13" fill="#fdec30"/>
<ellipse cx="361.75" cy="1038.75" rx="12.3" ry="13" fill="#fdec30"/>
<ellipse cx="417.5" cy="1064.5" rx="12.3" ry="13" fill="#fdec30"/>
<ellipse cx="454.25" cy="1064.5" rx="12.3" ry="13" fill="#fdec30"/>
<ellipse cx="436.25" cy="1013.75" rx="12.3" ry="13" fill="#fdec30"/>
<ellipse cx="459.25" cy="971.25" rx="12.3" ry="13" fill="#fdec30"/>
<ellipse cx="529.5" cy="982" rx="12.3" ry="13" fill="#fdec30"/>
<ellipse cx="549" cy="1035" rx="12.3" ry="13" fill="#fdec30"/>
<ellipse cx="500" cy="908.25" rx="12.3" ry="13" fill="#fdec30"/>
<ellipse cx="694.5" cy="1053.75" rx="12.3" ry="13" fill="#fdec30"/>
<ellipse cx="781.25" cy="1047.5" rx="12.3" ry="13" fill="#fdec30"/>
<ellipse cx="813" cy="1029.25" rx="12.3" ry="13" fill="#fdec30"/>
<ellipse cx="819.25" cy="993" rx="12.3" ry="13" fill="#fdec30"/>
<text transform="translate(257.07 975.05) scale(0.9 1)" font-family="'Liberation Sans', sans-serif" font-size="29.0" fill="#1a1f7c" stroke="#1a1f7c" stroke-width="0.25" stroke-linejoin="round">S</text>
<text transform="translate(317.1 1053.81) scale(0.9 1)" font-family="'Liberation Sans', sans-serif" font-size="29.0" fill="#0a9843" stroke="#0a9843" stroke-width="0.25" stroke-linejoin="round">L</text>
<text transform="translate(353.72 1050.06) scale(0.9 1)" font-family="'Liberation Sans', sans-serif" font-size="29.0" fill="#ec141c" stroke="#ec141c" stroke-width="0.25" stroke-linejoin="round">T</text>
<text transform="translate(408.77 1075.81) scale(0.9 1)" font-family="'Liberation Sans', sans-serif" font-size="29.0" fill="#ec141c" stroke="#ec141c" stroke-width="0.25" stroke-linejoin="round">C</text>
<text transform="translate(444.95 1075.81) scale(0.88 1)" font-family="'Liberation Sans', sans-serif" font-size="29.0" fill="#0c3a96" stroke="#0c3a96" stroke-width="0.25" stroke-linejoin="round">E</text>
<text transform="translate(427.48 1025.06) scale(0.87 1)" font-family="'Liberation Sans', sans-serif" font-size="29.0" fill="#ec141c" stroke="#ec141c" stroke-width="0.25" stroke-linejoin="round">P</text>
<text transform="translate(449.4 982.55) scale(0.9 1)" font-family="'Liberation Sans', sans-serif" font-size="29.0" fill="#ec141c" stroke="#ec141c" stroke-width="0.25" stroke-linejoin="round">G</text>
<text transform="translate(518.94 991.39) scale(0.94 1)" font-family="'Liberation Sans', sans-serif" font-size="29.0" fill="#0a9843" stroke="#0a9843" stroke-width="0.25" stroke-linejoin="round">Q</text>
<text transform="translate(545.41 1046.31) scale(0.9 1)" font-family="'Liberation Sans', sans-serif" font-size="29.0" fill="#0a9843" stroke="#0a9843" stroke-width="0.25" stroke-linejoin="round">I</text>
<text transform="translate(490.21 919.55) scale(0.9 1)" font-family="'Liberation Sans', sans-serif" font-size="29.0" fill="#ec141c" stroke="#ec141c" stroke-width="0.25" stroke-linejoin="round">R</text>
<text transform="translate(682.95 1065.06) scale(0.96 1)" font-family="'Liberation Sans', sans-serif" font-size="29.0" fill="#ec141c" stroke="#ec141c" stroke-width="0.25" stroke-linejoin="round">M</text>
<text transform="translate(771.85 1058.81) scale(0.9 1)" font-family="'Liberation Sans', sans-serif" font-size="29.0" fill="#0c3a96" stroke="#0c3a96" stroke-width="0.25" stroke-linejoin="round">N</text>
<text transform="translate(803.6 1040.41) scale(0.9 1)" font-family="'Liberation Sans', sans-serif" font-size="29.0" fill="#0a9843" stroke="#0a9843" stroke-width="0.25" stroke-linejoin="round">U</text>
<text transform="translate(810.57 1004.3) scale(0.9 1)" font-family="'Liberation Sans', sans-serif" font-size="29.0" fill="#ec141c" stroke="#ec141c" stroke-width="0.25" stroke-linejoin="round">V</text>
<text transform="translate(125.06 104.5) scale(1.2018 1)" font-family="'Liberation Sans', sans-serif" font-weight="400" font-size="35.21" fill="#e60012" stroke="#e60012" stroke-width="0.7" stroke-linejoin="round">50HZ</text>
<text transform="translate(71.22 155.76) scale(1.1300 1)" font-family="'Liberation Sans', sans-serif" font-weight="400" font-size="23.8" fill="#1d2875" stroke="#1d2875" stroke-width="0.6" stroke-linejoin="round" letter-spacing="0.41">30</text>
<text transform="translate(67.66 225.06) scale(1.1300 1)" font-family="'Liberation Sans', sans-serif" font-weight="400" font-size="23.66" fill="#1d2875" stroke="#1d2875" stroke-width="0.6" stroke-linejoin="round" letter-spacing="1.44">25</text>
<text transform="translate(67.66 294.06) scale(1.1300 1)" font-family="'Liberation Sans', sans-serif" font-weight="400" font-size="23.66" fill="#1d2875" stroke="#1d2875" stroke-width="0.6" stroke-linejoin="round" letter-spacing="0.97">20</text>
<text transform="translate(70.17 362.76) scale(1.1300 1)" font-family="'Liberation Sans', sans-serif" font-weight="400" font-size="24" fill="#1d2875" stroke="#1d2875" stroke-width="0.6" stroke-linejoin="round" letter-spacing="-0.07">15</text>
<text transform="translate(69.59 431.76) scale(1.1300 1)" font-family="'Liberation Sans', sans-serif" font-weight="400" font-size="23.66" fill="#1d2875" stroke="#1d2875" stroke-width="0.6" stroke-linejoin="round" letter-spacing="0.05">10</text>
<text transform="translate(84.42 501.06) scale(1.1300 1)" font-family="'Liberation Sans', sans-serif" font-weight="400" font-size="24" fill="#1d2875" stroke="#1d2875" stroke-width="0.6" stroke-linejoin="round">5</text>
<text transform="translate(84.51 597.06) scale(1.1200 1)" font-family="'Liberation Sans', sans-serif" font-weight="400" font-size="24.08" fill="#1d2875" stroke="#1d2875" stroke-width="0.6" stroke-linejoin="round">0</text>
<text transform="translate(189.98 597.06) scale(1.1200 1)" font-family="'Liberation Sans', sans-serif" font-weight="400" font-size="24.08" fill="#1d2875" stroke="#1d2875" stroke-width="0.6" stroke-linejoin="round" letter-spacing="-0.11">100</text>
<text transform="translate(269.65 597.06) scale(1.1200 1)" font-family="'Liberation Sans', sans-serif" font-weight="400" font-size="24.08" fill="#1d2875" stroke="#1d2875" stroke-width="0.6" stroke-linejoin="round" letter-spacing="0.93">200</text>
<text transform="translate(352.52 597.06) scale(1.1200 1)" font-family="'Liberation Sans', sans-serif" font-weight="400" font-size="24.08" fill="#1d2875" stroke="#1d2875" stroke-width="0.6" stroke-linejoin="round" letter-spacing="0.67">300</text>
<text transform="translate(434.63 597.06) scale(1.1200 1)" font-family="'Liberation Sans', sans-serif" font-weight="400" font-size="24.08" fill="#1d2875" stroke="#1d2875" stroke-width="0.6" stroke-linejoin="round" letter-spacing="0.49">400</text>
<text transform="translate(516.92 597.06) scale(1.1200 1)" font-family="'Liberation Sans', sans-serif" font-weight="400" font-size="24.08" fill="#1d2875" stroke="#1d2875" stroke-width="0.6" stroke-linejoin="round" letter-spacing="0.5">500</text>
<text transform="translate(598.25 597.06) scale(1.1200 1)" font-family="'Liberation Sans', sans-serif" font-weight="400" font-size="24.08" fill="#1d2875" stroke="#1d2875" stroke-width="0.6" stroke-linejoin="round" letter-spacing="0.79">600</text>
<text transform="translate(682.25 597.06) scale(1.1200 1)" font-family="'Liberation Sans', sans-serif" font-weight="400" font-size="24.08" fill="#1d2875" stroke="#1d2875" stroke-width="0.6" stroke-linejoin="round" letter-spacing="0.35">700</text>
<text transform="translate(763.39 597.06) scale(1.1200 1)" font-family="'Liberation Sans', sans-serif" font-weight="400" font-size="24.08" fill="#1d2875" stroke="#1d2875" stroke-width="0.6" stroke-linejoin="round" letter-spacing="0.6">800</text>
<text transform="translate(845.79 597.06) scale(1.1200 1)" font-family="'Liberation Sans', sans-serif" font-weight="400" font-size="24.08" fill="#1d2875" stroke="#1d2875" stroke-width="0.6" stroke-linejoin="round" letter-spacing="0.29">900</text>
<text transform="translate(7.7 166.67) scale(1.0701 1)" font-family="'Liberation Sans', 'Noto Sans CJK TC', sans-serif" font-weight="350" font-size="27.93" fill="#1d2875">揚</text>
<text transform="translate(7.47 211.79) scale(1.1271 1)" font-family="'Liberation Sans', 'Noto Sans CJK TC', sans-serif" font-weight="350" font-size="27.62" fill="#1d2875">程</text>
<text transform="translate(8.79 254.25) scale(1.1838 1)" font-family="'Liberation Sans', sans-serif" font-weight="400" font-size="28.12" fill="#1d2875" stroke="#1d2875" stroke-width="0.3" stroke-linejoin="round">M</text>
<text transform="translate(72.8 673.9) scale(0.8179 1)" font-family="'Liberation Sans', sans-serif" font-weight="400" font-size="29.58" fill="#0c3a96" stroke="#0c3a96" stroke-width="0.4" stroke-linejoin="round">40</text>
<text transform="translate(72.63 774.8) scale(0.8128 1)" font-family="'Liberation Sans', sans-serif" font-weight="400" font-size="29.72" fill="#0c3a96" stroke="#0c3a96" stroke-width="0.4" stroke-linejoin="round">30</text>
<text transform="translate(72.4 875.2) scale(0.8109 1)" font-family="'Liberation Sans', sans-serif" font-weight="400" font-size="29.72" fill="#0c3a96" stroke="#0c3a96" stroke-width="0.4" stroke-linejoin="round">20</text>
<text transform="translate(74.34 980.6) scale(0.7908 1)" font-family="'Liberation Sans', sans-serif" font-weight="400" font-size="29.72" fill="#0c3a96" stroke="#0c3a96" stroke-width="0.4" stroke-linejoin="round">10</text>
<text transform="translate(78.58 1115.82) scale(0.8106 1)" font-family="'Liberation Sans', sans-serif" font-weight="400" font-size="30.77" fill="#0c3a96" stroke="#0c3a96" stroke-width="0.35" stroke-linejoin="round">0</text>
<text transform="translate(165.22 1115.82) scale(0.7596 1)" font-family="'Liberation Sans', sans-serif" font-weight="400" font-size="30.77" fill="#0c3a96" stroke="#0c3a96" stroke-width="0.35" stroke-linejoin="round">100</text>
<text transform="translate(242.99 1115.82) scale(0.7681 1)" font-family="'Liberation Sans', sans-serif" font-weight="400" font-size="30.77" fill="#0c3a96" stroke="#0c3a96" stroke-width="0.35" stroke-linejoin="round">200</text>
<text transform="translate(322.54 1115.82) scale(0.7633 1)" font-family="'Liberation Sans', sans-serif" font-weight="400" font-size="30.77" fill="#0c3a96" stroke="#0c3a96" stroke-width="0.35" stroke-linejoin="round">300</text>
<text transform="translate(401.28 1115.82) scale(0.7683 1)" font-family="'Liberation Sans', sans-serif" font-weight="400" font-size="30.77" fill="#0c3a96" stroke="#0c3a96" stroke-width="0.35" stroke-linejoin="round">400</text>
<text transform="translate(480.22 1115.82) scale(0.7756 1)" font-family="'Liberation Sans', sans-serif" font-weight="400" font-size="30.77" fill="#0c3a96" stroke="#0c3a96" stroke-width="0.35" stroke-linejoin="round">500</text>
<text transform="translate(558.99 1115.82) scale(0.7681 1)" font-family="'Liberation Sans', sans-serif" font-weight="400" font-size="30.77" fill="#0c3a96" stroke="#0c3a96" stroke-width="0.35" stroke-linejoin="round">600</text>
<text transform="translate(639.02 1115.82) scale(0.7537 1)" font-family="'Liberation Sans', sans-serif" font-weight="400" font-size="30.77" fill="#0c3a96" stroke="#0c3a96" stroke-width="0.35" stroke-linejoin="round">700</text>
<text transform="translate(717.4 1115.82) scale(0.7760 1)" font-family="'Liberation Sans', sans-serif" font-weight="400" font-size="30.77" fill="#0c3a96" stroke="#0c3a96" stroke-width="0.35" stroke-linejoin="round">800</text>
<text transform="translate(796.31 1115.82) scale(0.7678 1)" font-family="'Liberation Sans', sans-serif" font-weight="400" font-size="30.77" fill="#0c3a96" stroke="#0c3a96" stroke-width="0.35" stroke-linejoin="round">900</text>
<text transform="translate(863.24 1115.82) scale(0.7508 1)" font-family="'Liberation Sans', sans-serif" font-weight="400" font-size="30.77" fill="#0c3a96" stroke="#0c3a96" stroke-width="0.35" stroke-linejoin="round">1000</text>
<text transform="translate(109.45 1158.36) scale(1.0494 1)" font-family="'Liberation Sans', sans-serif" font-weight="400" font-size="39.08" fill="#0b7f3e" stroke="#0b7f3e" stroke-width="0.5" stroke-linejoin="round">60HZ</text>
<text transform="translate(759.35 1156) scale(1.0669 1)" font-family="'Liberation Sans', sans-serif" font-weight="400" font-size="34.56" fill="#1f2a7e" stroke="#1f2a7e" stroke-width="0.5" stroke-linejoin="round">l/min</text>
<text transform="translate(847.44 1159.28) scale(1.0224 1)" font-family="'Liberation Sans', 'Noto Sans CJK TC', sans-serif" font-weight="300" font-size="36" fill="#1f2a7e">流量</text>
<text transform="translate(6.96 664.67) scale(1.0047 1)" font-family="'Liberation Sans', 'Noto Sans CJK TC', sans-serif" font-weight="350" font-size="27.83" fill="#1f2a7e">揚</text>
<text transform="translate(6.84 709.35) scale(1.0207 1)" font-family="'Liberation Sans', 'Noto Sans CJK TC', sans-serif" font-weight="350" font-size="28.07" fill="#1f2a7e">程</text>
<text transform="translate(8.24 752.25) scale(1.0198 1)" font-family="'Liberation Sans', sans-serif" font-weight="400" font-size="29.57" fill="#1f2a7e" stroke="#1f2a7e" stroke-width="0.3" stroke-linejoin="round">M</text>
</svg>
</body></html>
